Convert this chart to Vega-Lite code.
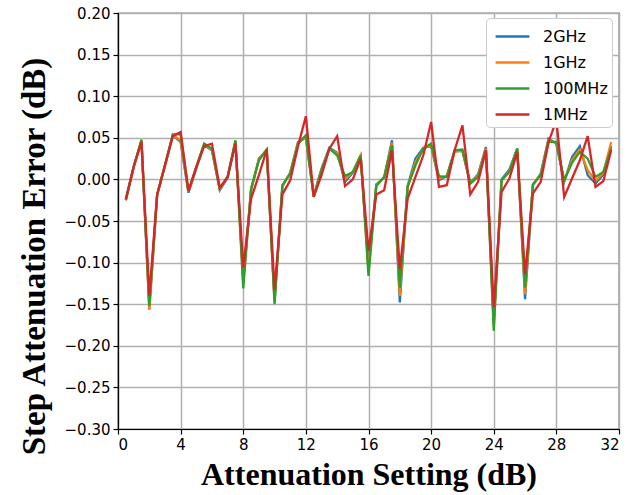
{
  "$schema": "https://vega.github.io/schema/vega-lite/v6.json",
  "width": 501,
  "height": 416,
  "autosize": "none",
  "padding": {"left": 118, "top": 13, "right": 10, "bottom": 66},
  "background": "white",
  "data": {
    "values": [
      {"x":0.5,"2GHz":-0.025,"1GHz":-0.025,"100MHz":-0.024,"1MHz":-0.024},
      {"x":1,"2GHz":0.015,"1GHz":0.015,"100MHz":0.015,"1MHz":0.015},
      {"x":1.5,"2GHz":0.046,"1GHz":0.047,"100MHz":0.048,"1MHz":0.045},
      {"x":2,"2GHz":-0.155,"1GHz":-0.157,"100MHz":-0.152,"1MHz":-0.140},
      {"x":2.5,"2GHz":-0.019,"1GHz":-0.019,"100MHz":-0.018,"1MHz":-0.018},
      {"x":3,"2GHz":0.017,"1GHz":0.016,"100MHz":0.017,"1MHz":0.017},
      {"x":3.5,"2GHz":0.053,"1GHz":0.053,"100MHz":0.054,"1MHz":0.052},
      {"x":4,"2GHz":0.045,"1GHz":0.047,"100MHz":0.054,"1MHz":0.057},
      {"x":4.5,"2GHz":-0.016,"1GHz":-0.015,"100MHz":-0.014,"1MHz":-0.014},
      {"x":5,"2GHz":0.013,"1GHz":0.014,"100MHz":0.015,"1MHz":0.015},
      {"x":5.5,"2GHz":0.041,"1GHz":0.042,"100MHz":0.043,"1MHz":0.040},
      {"x":6,"2GHz":0.035,"1GHz":0.036,"100MHz":0.037,"1MHz":0.043},
      {"x":6.5,"2GHz":-0.013,"1GHz":-0.012,"100MHz":-0.011,"1MHz":-0.010},
      {"x":7,"2GHz":0.002,"1GHz":0.003,"100MHz":0.003,"1MHz":0.003},
      {"x":7.5,"2GHz":0.045,"1GHz":0.046,"100MHz":0.047,"1MHz":0.043},
      {"x":8,"2GHz":-0.120,"1GHz":-0.125,"100MHz":-0.131,"1MHz":-0.106},
      {"x":8.5,"2GHz":-0.013,"1GHz":-0.012,"100MHz":-0.011,"1MHz":-0.023},
      {"x":9,"2GHz":0.025,"1GHz":0.024,"100MHz":0.023,"1MHz":0.005},
      {"x":9.5,"2GHz":0.035,"1GHz":0.036,"100MHz":0.036,"1MHz":0.036},
      {"x":10,"2GHz":-0.145,"1GHz":-0.148,"100MHz":-0.150,"1MHz":-0.133},
      {"x":10.5,"2GHz":-0.008,"1GHz":-0.008,"100MHz":-0.007,"1MHz":-0.018},
      {"x":11,"2GHz":0.008,"1GHz":0.008,"100MHz":0.007,"1MHz":-0.001},
      {"x":11.5,"2GHz":0.045,"1GHz":0.044,"100MHz":0.043,"1MHz":0.040},
      {"x":12,"2GHz":0.050,"1GHz":0.051,"100MHz":0.053,"1MHz":0.076},
      {"x":12.5,"2GHz":-0.020,"1GHz":-0.020,"100MHz":-0.021,"1MHz":-0.021},
      {"x":13,"2GHz":0.013,"1GHz":0.012,"100MHz":0.011,"1MHz":0.005},
      {"x":13.5,"2GHz":0.038,"1GHz":0.037,"100MHz":0.037,"1MHz":0.037},
      {"x":14,"2GHz":0.032,"1GHz":0.031,"100MHz":0.029,"1MHz":0.052},
      {"x":14.5,"2GHz":-0.003,"1GHz":0.000,"100MHz":0.004,"1MHz":-0.008},
      {"x":15,"2GHz":0.008,"1GHz":0.009,"100MHz":0.009,"1MHz":0.000},
      {"x":15.5,"2GHz":0.028,"1GHz":0.029,"100MHz":0.029,"1MHz":0.025},
      {"x":16,"2GHz":-0.105,"1GHz":-0.110,"100MHz":-0.116,"1MHz":-0.086},
      {"x":16.5,"2GHz":-0.006,"1GHz":-0.007,"100MHz":-0.008,"1MHz":-0.018},
      {"x":17,"2GHz":0.002,"1GHz":0.003,"100MHz":0.003,"1MHz":-0.013},
      {"x":17.5,"2GHz":0.047,"1GHz":0.044,"100MHz":0.041,"1MHz":0.035},
      {"x":18,"2GHz":-0.148,"1GHz":-0.140,"100MHz":-0.130,"1MHz":-0.108},
      {"x":18.5,"2GHz":-0.008,"1GHz":-0.009,"100MHz":-0.009,"1MHz":-0.023},
      {"x":19,"2GHz":0.025,"1GHz":0.021,"100MHz":0.017,"1MHz":0.003},
      {"x":19.5,"2GHz":0.038,"1GHz":0.037,"100MHz":0.037,"1MHz":0.029},
      {"x":20,"2GHz":0.040,"1GHz":0.041,"100MHz":0.043,"1MHz":0.069},
      {"x":20.5,"2GHz":-0.001,"1GHz":0.001,"100MHz":0.004,"1MHz":-0.009},
      {"x":21,"2GHz":0.004,"1GHz":0.004,"100MHz":0.003,"1MHz":-0.007},
      {"x":21.5,"2GHz":0.034,"1GHz":0.033,"100MHz":0.035,"1MHz":0.035},
      {"x":22,"2GHz":0.034,"1GHz":0.035,"100MHz":0.036,"1MHz":0.065},
      {"x":22.5,"2GHz":-0.004,"1GHz":-0.005,"100MHz":-0.005,"1MHz":-0.018},
      {"x":23,"2GHz":0.006,"1GHz":0.005,"100MHz":0.003,"1MHz":-0.003},
      {"x":23.5,"2GHz":0.039,"1GHz":0.037,"100MHz":0.035,"1MHz":0.035},
      {"x":24,"2GHz":-0.170,"1GHz":-0.175,"100MHz":-0.182,"1MHz":-0.154},
      {"x":24.5,"2GHz":0.000,"1GHz":-0.001,"100MHz":-0.001,"1MHz":-0.015},
      {"x":25,"2GHz":0.012,"1GHz":0.010,"100MHz":0.009,"1MHz":0.001},
      {"x":25.5,"2GHz":0.037,"1GHz":0.037,"100MHz":0.037,"1MHz":0.033},
      {"x":26,"2GHz":-0.144,"1GHz":-0.138,"100MHz":-0.130,"1MHz":-0.114},
      {"x":26.5,"2GHz":-0.007,"1GHz":-0.006,"100MHz":-0.006,"1MHz":-0.017},
      {"x":27,"2GHz":0.007,"1GHz":0.006,"100MHz":0.005,"1MHz":-0.003},
      {"x":27.5,"2GHz":0.049,"1GHz":0.047,"100MHz":0.045,"1MHz":0.045},
      {"x":28,"2GHz":0.043,"1GHz":0.044,"100MHz":0.045,"1MHz":0.071},
      {"x":28.5,"2GHz":-0.003,"1GHz":-0.002,"100MHz":-0.001,"1MHz":-0.021},
      {"x":29,"2GHz":0.027,"1GHz":0.023,"100MHz":0.020,"1MHz":0.001},
      {"x":29.5,"2GHz":0.040,"1GHz":0.036,"100MHz":0.033,"1MHz":0.023},
      {"x":30,"2GHz":0.005,"1GHz":0.011,"100MHz":0.025,"1MHz":0.052},
      {"x":30.5,"2GHz":-0.005,"1GHz":-0.002,"100MHz":0.003,"1MHz":-0.009},
      {"x":31,"2GHz":0.006,"1GHz":0.008,"100MHz":0.009,"1MHz":-0.002},
      {"x":31.5,"2GHz":0.040,"1GHz":0.045,"100MHz":0.037,"1MHz":0.035}
    ]
  },
  "transform": [
    {"fold": ["2GHz", "1GHz", "100MHz", "1MHz"], "as": ["series", "value"]}
  ],
  "mark": {"type": "line", "strokeWidth": 2.3, "clip": true},
  "encoding": {
    "x": {
      "field": "x", "type": "quantitative",
      "scale": {"domain": [0, 32], "nice": false},
      "axis": {
        "values": [0, 4, 8, 12, 16, 20, 24, 28, 32],
        "format": "d",
        "title": "Attenuation Setting (dB)",
        "titleX": 250.5,
        "titleY": 55,
        "titleAlign": "center",
        "titleBaseline": "alphabetic"
      }
    },
    "y": {
      "field": "value", "type": "quantitative",
      "scale": {"domain": [-0.3, 0.2], "nice": false, "zero": false},
      "axis": {
        "values": [-0.3, -0.25, -0.2, -0.15, -0.1, -0.05, 0, 0.05, 0.1, 0.15, 0.2],
        "format": ".2f",
        "title": "Step Attenuation Error (dB)",
        "titleAngle": -90,
        "titleX": -74,
        "titleY": 243,
        "titleFontSize": 33,
        "titleAlign": "center",
        "titleBaseline": "alphabetic"
      }
    },
    "color": {
      "field": "series", "type": "nominal",
      "scale": {"domain": ["2GHz", "1GHz", "100MHz", "1MHz"], "range": ["#1f77b4", "#ff7f0e", "#2ca02c", "#d62728"]},
      "legend": {
        "title": null,
        "orient": "none",
        "legendX": 368,
        "legendY": 5,
        "symbolType": "M-1.3,0H1.3",
        "symbolSize": 676,
        "symbolStrokeWidth": 2.5,
        "symbolOffset": 8,
        "labelFontSize": 16,
        "labelFont": "DejaVu Sans",
        "labelColor": "black",
        "labelOffset": 16,
        "rowPadding": 3,
        "fillColor": "white",
        "strokeColor": "#cccccc",
        "cornerRadius": 4,
        "padding": 4
      }
    }
  },
  "config": {
    "view": {"stroke": "black", "strokeWidth": 1.2},
    "axis": {
      "grid": true,
      "gridColor": "#b0b0b0",
      "gridWidth": 1.5,
      "domainColor": "black",
      "domainWidth": 1.2,
      "tickColor": "black",
      "tickSize": 5,
      "tickWidth": 1.2,
      "labelFont": "DejaVu Sans",
      "labelFontSize": 15,
      "labelColor": "black",
      "labelPadding": 3,
      "titleFont": "Liberation Serif",
      "titleFontSize": 32,
      "titleFontWeight": "bold",
      "titleColor": "black"
    }
  }
}
